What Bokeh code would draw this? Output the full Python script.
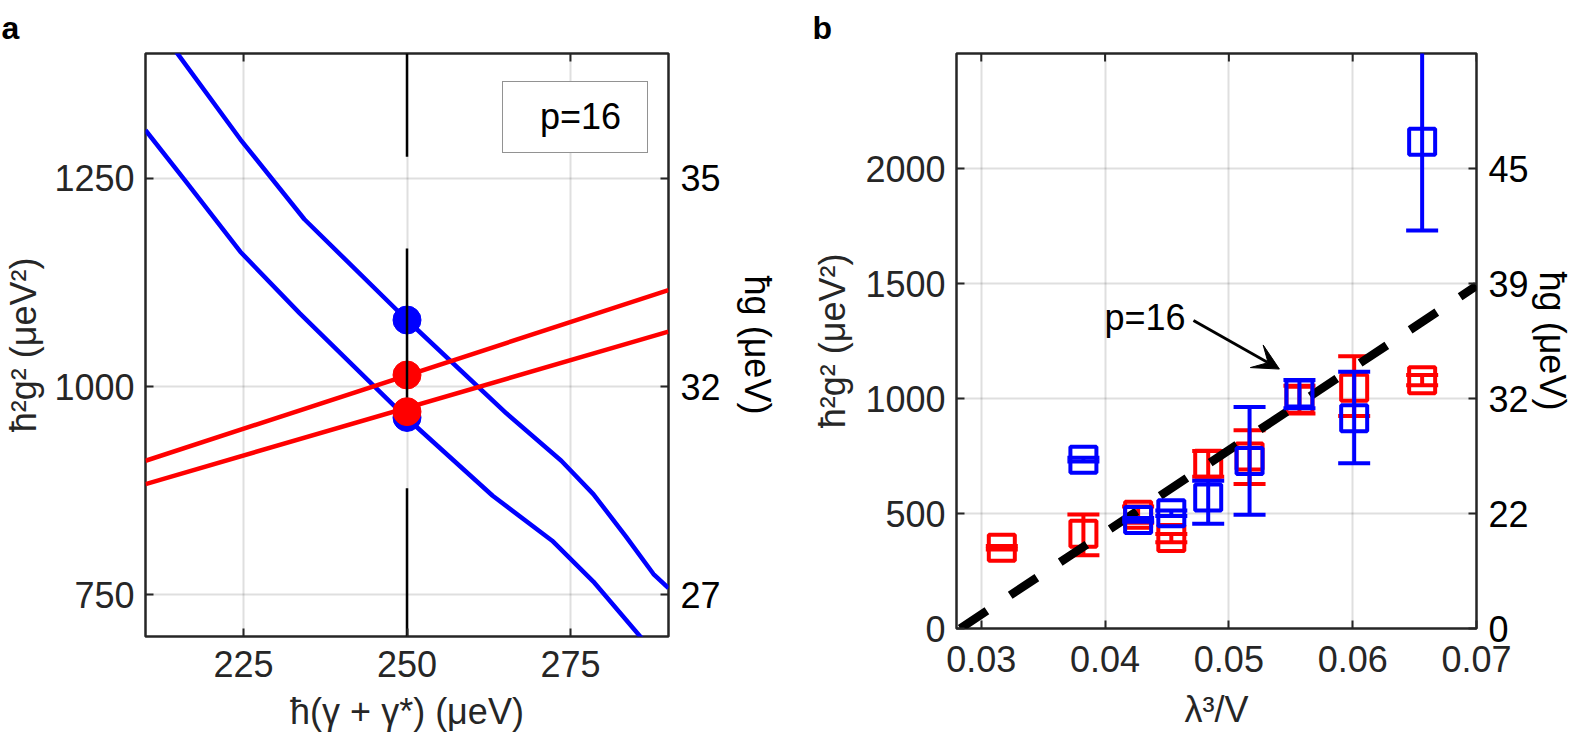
import math
from bokeh.plotting import figure
from bokeh.models import (Range1d, FixedTicker, LinearAxis, Label, Legend, LegendItem,
                          Arrow, VeeHead)
from bokeh.layouts import row
from bokeh.embed import file_html
from bokeh.resources import INLINE

FONT = "Liberation Sans"
AX = "#262626"
BLUE = "#0000ff"
RED = "#ff0000"

# ---------------- Panel a data ----------------
a_xticks = [225, 250, 275]
a_yticks = [750, 1000, 1250]
blue_upper_x = [214.7, 224.5, 234.3, 250.0, 265.2, 273.6, 278.5, 283.5, 287.7, 290.0]
blue_upper_y = [1402, 1297, 1201, 1080, 968, 911, 871, 820, 775, 758]
blue_lower_x = [210.0, 216.1, 224.5, 233.6, 250.0, 263.1, 272.2, 278.5, 286.0]
blue_lower_y = [1308, 1247, 1162, 1088, 962, 869, 815, 766, 697]
red_upper_x = [210.0, 290.0]
red_upper_y = [911, 1116]
red_lower_x = [210.0, 290.0]
red_lower_y = [883, 1066]
blue_dot_x = [250, 250]
blue_dot_y = [1080, 963]
red_dot_x = [250, 250]
red_dot_y = [1014, 970]
vline_x = [250, 250, 250]
vline_top = [1400, 1166, 878]
vline_bottom = [1276, 987, 700]

# ---------------- Panel b data ----------------
b_xticks = [0.03, 0.04, 0.05, 0.06, 0.07]
b_yticks = [0, 500, 1000, 1500, 2000]
lam_red = [0.03166, 0.03825, 0.04267, 0.04535, 0.04833, 0.05167, 0.05570, 0.06012, 0.06561]
g2_red = [351, 412, 495, 393, 716, 748, 995, 1047, 1079]
g2_red_lo = [343, 318, 460, 375, 660, 628, 935, 924, 1058]
g2_red_hi = [359, 496, 530, 411, 772, 862, 1055, 1184, 1102]
lam_blue = [0.03825, 0.04267, 0.04535, 0.04833, 0.05167, 0.05570, 0.06012, 0.06561]
g2_blue = [734, 472, 501, 570, 728, 1022, 914, 2116]
g2_blue_lo = [726, 464, 489, 455, 495, 958, 718, 1730]
g2_blue_hi = [742, 480, 513, 642, 963, 1080, 1116, 2540]
fit_x = [0.0283, 0.0700]
fit_y = [0, 1490]


def style_axis(ax, standoff, label_standoff, label_color=AX):
    ax.axis_line_color = None
    ax.major_tick_in = 8
    ax.major_tick_out = 0
    ax.major_tick_line_width = 2
    ax.major_tick_line_color = AX
    ax.minor_tick_line_color = None
    ax.major_label_text_font = FONT
    ax.major_label_text_font_size = "36px"
    ax.major_label_text_color = label_color
    ax.major_label_standoff = standoff
    ax.axis_label_text_font = FONT
    ax.axis_label_text_font_size = "36px"
    ax.axis_label_text_font_style = "normal"
    ax.axis_label_text_color = label_color
    ax.axis_label_standoff = label_standoff


def setup(p, xt, yt, xlabel, ylabel, letter, st):
    p.outline_line_color = AX
    p.outline_line_width = 2.5
    p.background_fill_color = "white"
    p.border_fill_color = "white"
    p.xgrid.ticker = FixedTicker(ticks=xt)
    p.ygrid.ticker = FixedTicker(ticks=yt)
    p.grid.grid_line_color = AX
    p.grid.grid_line_alpha = 0.15
    p.grid.grid_line_width = 2
    p.xaxis.ticker = FixedTicker(ticks=xt)
    p.yaxis.ticker = FixedTicker(ticks=yt)
    p.xaxis.axis_label = xlabel
    p.yaxis.axis_label = ylabel
    style_axis(p.xaxis[0], st["bx"], st["bl"])
    style_axis(p.yaxis[0], st["lx"], st["ll"])
    right = LinearAxis(ticker=FixedTicker(ticks=yt),
                       major_label_overrides={t: str(round(math.sqrt(t))) for t in yt},
                       axis_label="ħg (μeV)")
    style_axis(right, st["rx"], st["rl"], label_color="black")
    p.add_layout(right, "right")
    # inward ticks on the top edge (half of each vertical dash is clipped by the frame)
    p.scatter(xt, [p.y_range.end] * len(xt), marker="dash", angle=math.pi / 2, size=16,
              line_color=AX, line_width=2)
    p.title.text = letter
    p.title.align = "left"
    p.title.offset = -144
    p.title.text_font = FONT
    p.title.text_font_size = "32px"
    p.title.text_font_style = "bold"
    p.title.text_color = "black"
    p.title.standoff = 15


# ---------------- Panel a ----------------
pa = figure(width=790, height=743, x_range=Range1d(210, 290), y_range=Range1d(700, 1400),
            output_backend="svg", toolbar_location=None, frame_align=False,
            min_border_left=144, min_border_right=122, min_border_top=52, min_border_bottom=107)
setup(pa, a_xticks, a_yticks, "ħ(γ + γ*) (μeV)", "ħ²g² (μeV²)", "a",
      dict(bx=14, bl=11, lx=11, ll=7, rx=12, rl=13))

pa.line(blue_upper_x, blue_upper_y, line_color=BLUE, line_width=4.5)
pa.line(blue_lower_x, blue_lower_y, line_color=BLUE, line_width=4.5)
pa.line(red_upper_x, red_upper_y, line_color=RED, line_width=4.5)
pa.line(red_lower_x, red_lower_y, line_color=RED, line_width=4.5)
pa.scatter(blue_dot_x, blue_dot_y, marker="circle", size=28, fill_color=BLUE, line_color=BLUE)
pa.scatter(red_dot_x, red_dot_y, marker="circle", size=28, fill_color=RED, line_color=RED)
pa.segment(x0=vline_x, y0=vline_top, x1=vline_x, y1=vline_bottom, line_color="black", line_width=2.5)

dummy = pa.line(x=[], y=[], line_alpha=0)
leg = Legend(items=[LegendItem(label="p=16", renderers=[dummy])], location=(357, 483),
             label_text_font=FONT, label_text_font_size="36px", label_text_color="black",
             border_line_color=AX, border_line_width=1.5, background_fill_color="white",
             background_fill_alpha=1.0, padding=14, spacing=0, margin=0,
             glyph_width=12, glyph_height=20, label_standoff=11, label_width=93)
pa.add_layout(leg)

# ---------------- Panel b ----------------
pb = figure(width=785, height=743, x_range=Range1d(0.028, 0.07), y_range=Range1d(0, 2500),
            output_backend="svg", toolbar_location=None, frame_align=False,
            min_border_left=166, min_border_right=94, min_border_top=52, min_border_bottom=115)
setup(pb, b_xticks, b_yticks, "λ³/V", "ħ²g² (μeV²)", "b",
      dict(bx=17, bl=14, lx=11, ll=9, rx=12, rl=0))

pb.segment(x0=lam_red, y0=g2_red_lo, x1=lam_red, y1=g2_red_hi, line_color=RED, line_width=4)
pb.scatter(lam_red, g2_red_lo, marker="dash", size=32, line_color=RED, line_width=4)
pb.scatter(lam_red, g2_red_hi, marker="dash", size=32, line_color=RED, line_width=4)
pb.scatter(lam_red, g2_red, marker="square", size=26, fill_color=None, line_color=RED, line_width=4)

pb.line(fit_x, fit_y, line_color="black", line_width=8.5, line_dash="32 28")

pb.segment(x0=lam_blue, y0=g2_blue_lo, x1=lam_blue, y1=g2_blue_hi, line_color=BLUE, line_width=4)
pb.scatter(lam_blue, g2_blue_lo, marker="dash", size=32, line_color=BLUE, line_width=4)
pb.scatter(lam_blue, g2_blue_hi, marker="dash", size=32, line_color=BLUE, line_width=4)
pb.scatter(lam_blue, g2_blue, marker="square", size=26, fill_color=None, line_color=BLUE, line_width=4)

pb.add_layout(Arrow(end=VeeHead(size=26, fill_color="black", line_color="black", line_width=1),
                    x_start=0.04714, y_start=1339, x_end=0.05408, y_end=1128,
                    line_color="black", line_width=3))
pb.add_layout(Label(x=0.0465, y=1351, text="p=16", text_align="right", text_baseline="middle",
                    text_font=FONT, text_font_size="36px", text_color="black"))

layout = row(pa, pb)
open("out.html", "w").write(file_html(layout, INLINE))
